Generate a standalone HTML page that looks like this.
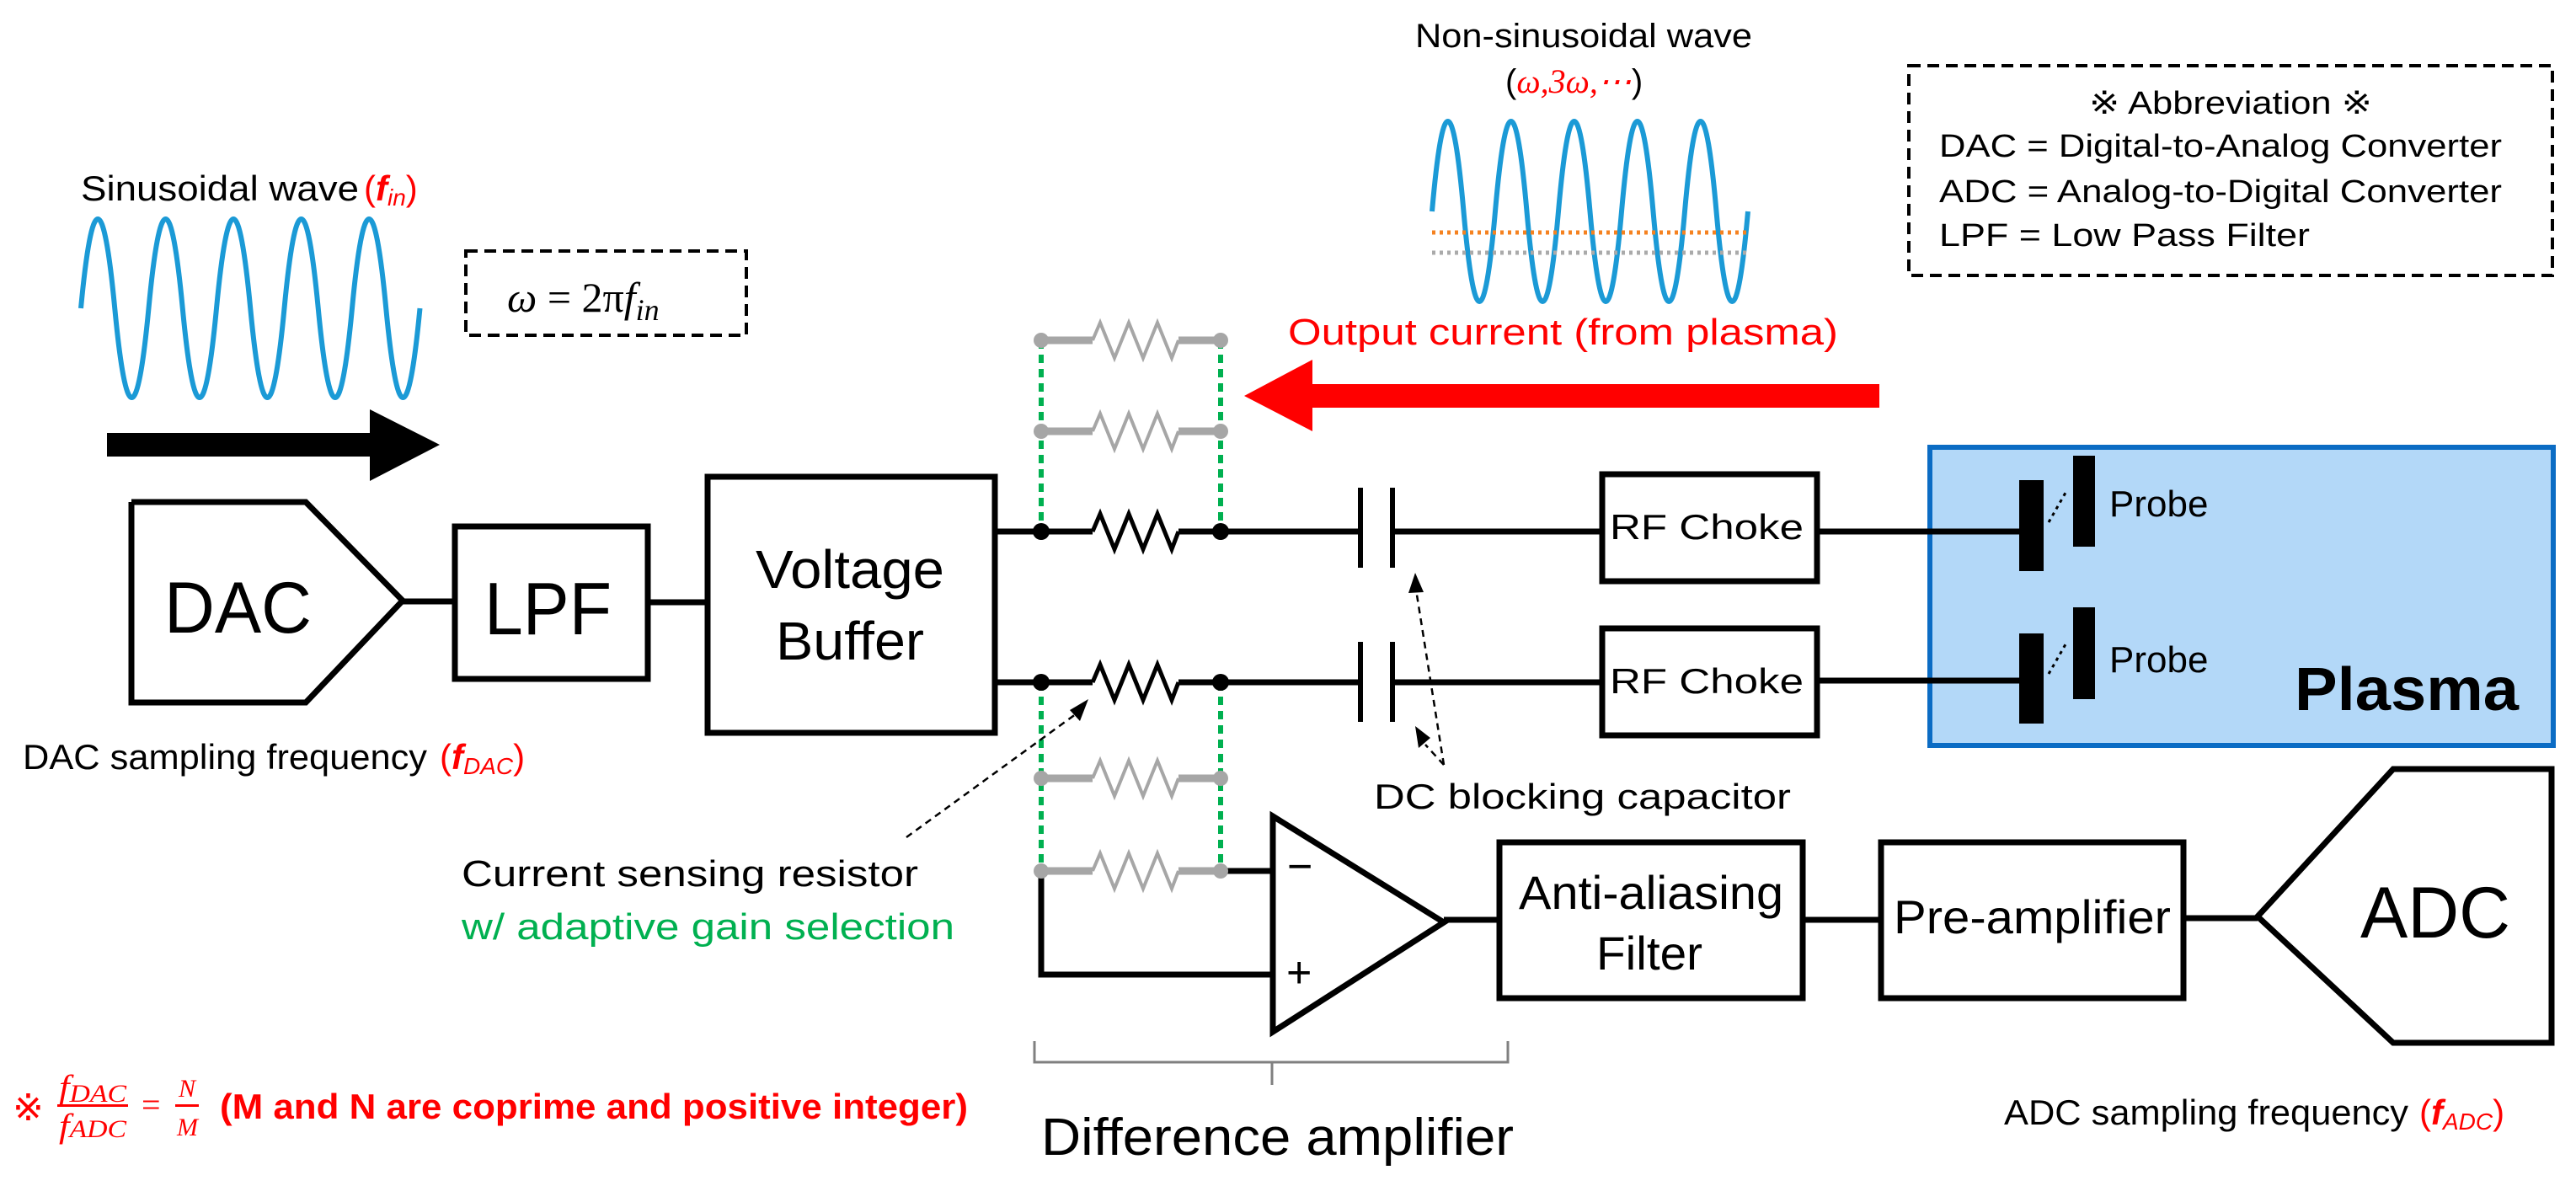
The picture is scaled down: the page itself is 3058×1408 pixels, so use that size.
<!DOCTYPE html>
<html><head><meta charset="utf-8"><style>html,body{margin:0;padding:0;background:#fff}svg{display:block}</style></head>
<body>
<svg width="3058" height="1408" viewBox="0 0 3058 1408" xmlns="http://www.w3.org/2000/svg" font-family="Liberation Sans, Arial, sans-serif">
<rect width="3058" height="1408" fill="#fff"/>

<!-- Sinusoidal wave -->
<text x="96" y="238" font-size="42" textLength="330" lengthAdjust="spacingAndGlyphs">Sinusoidal wave</text>
<text x="432" y="238" font-size="42" fill="#f00">(<tspan font-style="italic" font-weight="bold">f</tspan><tspan font-style="italic" font-size="28" dy="6">in</tspan><tspan dy="-6">)</tspan></text>
<path d="M96,366 Q116.1,154 136.25,366 T176.5,366 T216.75,366 T257,366 T297.25,366 T337.5,366 T377.75,366 T418,366 T458.25,366 T498.5,366" fill="none" stroke="#1b9ad6" stroke-width="6"/>

<!-- omega box -->
<rect x="553" y="298" width="333" height="100" fill="none" stroke="#000" stroke-width="4" stroke-dasharray="14 8"/>
<text x="602" y="370" font-family="Liberation Serif, serif" font-style="italic" font-size="50">ω <tspan font-style="normal">= 2π</tspan>f<tspan font-size="36" dy="10">in</tspan></text>

<!-- black arrow -->
<polygon points="127,514 439,514 439,486 522,528 439,571 439,542 127,542" fill="#000"/>

<!-- Non-sinusoidal wave -->
<text x="1680" y="56" font-size="40" textLength="400" lengthAdjust="spacingAndGlyphs">Non-sinusoidal wave</text>
<text x="1787" y="110" font-size="40">(<tspan fill="#f00" font-family="Liberation Serif, serif" font-style="italic">ω,3ω,⋯</tspan>)</text>
<path d="M1700,251 Q1718.75,37 1737.5,251 T1775,251 T1812.5,251 T1850,251 T1887.5,251 T1925,251 T1962.5,251 T2000,251 T2037.5,251 T2075,251" fill="none" stroke="#1b9ad6" stroke-width="6"/>
<line x1="1700" y1="276" x2="2077" y2="276" stroke="#f58220" stroke-width="5" stroke-dasharray="4 5"/>
<line x1="1700" y1="300" x2="2077" y2="300" stroke="#aaa" stroke-width="5" stroke-dasharray="4 5"/>

<!-- Output current -->
<text x="1529" y="409" font-size="44" fill="#f00" textLength="653" lengthAdjust="spacingAndGlyphs">Output current (from plasma)</text>
<polygon points="2231,456 1558,456 1558,427 1477,470 1558,512 1558,484 2231,484" fill="#f00"/>

<!-- Abbreviation -->
<rect x="2266" y="78" width="764" height="249" fill="none" stroke="#000" stroke-width="4" stroke-dasharray="14 8"/>
<text x="2480" y="135" font-size="38" textLength="336" lengthAdjust="spacingAndGlyphs">※ Abbreviation ※</text>
<text x="2302" y="186" font-size="38" textLength="668" lengthAdjust="spacingAndGlyphs">DAC = Digital-to-Analog Converter</text>
<text x="2302" y="240" font-size="38" textLength="668" lengthAdjust="spacingAndGlyphs">ADC = Analog-to-Digital Converter</text>
<text x="2302" y="292" font-size="38" textLength="440" lengthAdjust="spacingAndGlyphs">LPF  = Low Pass Filter</text>

<!-- Plasma box -->
<rect x="2291" y="531" width="740" height="354" fill="#b3d8f8" stroke="#0b6cc4" stroke-width="6"/>
<text x="2724" y="843" font-size="72" font-weight="bold" textLength="266" lengthAdjust="spacingAndGlyphs">Plasma</text>

<!-- wires -->
<g stroke="#000" stroke-width="7" fill="none">
<polyline points="156,596 363,596 478,713 363,834 156,834 156,596" fill="#fff"/>
<line x1="478" y1="714" x2="538" y2="714"/>
<rect x="540" y="625" width="229" height="181" fill="#fff"/>
<line x1="769" y1="715" x2="839" y2="715"/>
<rect x="840" y="566" width="341" height="304" fill="#fff"/>

<line x1="1181" y1="631" x2="1297" y2="631"/>
<line x1="1399" y1="631" x2="1615" y2="631"/>
<line x1="1653" y1="631" x2="1902" y2="631"/>
<line x1="1181" y1="810" x2="1297" y2="810"/>
<line x1="1399" y1="810" x2="1615" y2="810"/>
<line x1="1653" y1="810" x2="1902" y2="810"/>
<line x1="1615" y1="579" x2="1615" y2="674" stroke-width="6"/>
<line x1="1653" y1="579" x2="1653" y2="674" stroke-width="6"/>
<line x1="1615" y1="762" x2="1615" y2="857" stroke-width="6"/>
<line x1="1653" y1="762" x2="1653" y2="857" stroke-width="6"/>
<rect x="1902" y="563" width="255" height="127" fill="#fff"/>
<rect x="1902" y="746" width="255" height="127" fill="#fff"/>
<line x1="2157" y1="631" x2="2400" y2="631"/>
<line x1="2157" y1="808" x2="2400" y2="808"/>

<!-- op amp inputs -->
<line x1="1449" y1="1034" x2="1511" y2="1034"/>
<polyline points="1236,1034 1236,1157 1511,1157"/>
<polygon points="1511,969 1714,1095 1511,1225" fill="#fff"/>
<line x1="1714" y1="1092" x2="1780" y2="1092"/>
<rect x="1780" y="1000" width="360" height="185" fill="#fff"/>
<line x1="2140" y1="1092" x2="2233" y2="1092"/>
<rect x="2233" y="1000" width="359" height="185" fill="#fff"/>
<line x1="2592" y1="1090" x2="2680" y2="1090"/>
<polygon points="2680,1088 2841,913 3029,913 3029,1238 2841,1238" fill="#fff"/>
</g>

<!-- probe plates -->
<rect x="2397" y="570" width="29" height="108" fill="#000"/>
<rect x="2461" y="541" width="26" height="108" fill="#000"/>
<line x1="2432" y1="620" x2="2452" y2="585" stroke="#000" stroke-width="3" stroke-dasharray="4 5"/>
<rect x="2397" y="752" width="29" height="107" fill="#000"/>
<rect x="2461" y="721" width="26" height="109" fill="#000"/>
<line x1="2432" y1="800" x2="2452" y2="765" stroke="#000" stroke-width="3" stroke-dasharray="4 5"/>
<text x="2504" y="613" font-size="44">Probe</text>
<text x="2504" y="798" font-size="44">Probe</text>

<!-- green dashed -->
<g stroke="#00b050" stroke-width="6" stroke-dasharray="10 7">
<line x1="1236" y1="404" x2="1236" y2="631"/>
<line x1="1449" y1="404" x2="1449" y2="631"/>
<line x1="1236" y1="810" x2="1236" y2="1034"/>
<line x1="1449" y1="810" x2="1449" y2="1034"/>
</g>

<!-- gray resistors -->
<g stroke="#a6a6a6" fill="none">
<g stroke-width="9"><line x1="1236" y1="404" x2="1297" y2="404"/><line x1="1399" y1="404" x2="1449" y2="404"/>
<line x1="1236" y1="512" x2="1297" y2="512"/><line x1="1399" y1="512" x2="1449" y2="512"/>
<line x1="1236" y1="924" x2="1297" y2="924"/><line x1="1399" y1="924" x2="1449" y2="924"/>
<line x1="1236" y1="1034" x2="1297" y2="1034"/><line x1="1399" y1="1034" x2="1449" y2="1034"/></g>
<g stroke-width="4">
<path d="M1297,404 L1306,383 L1323,425 L1340,383 L1357,425 L1374,383 L1391,425 L1399,404"/>
<path d="M1297,512 L1306,491 L1323,533 L1340,491 L1357,533 L1374,491 L1391,533 L1399,512"/>
<path d="M1297,924 L1306,903 L1323,945 L1340,903 L1357,945 L1374,903 L1391,945 L1399,924"/>
<path d="M1297,1034 L1306,1013 L1323,1055 L1340,1013 L1357,1055 L1374,1013 L1391,1055 L1399,1034"/>
</g></g>
<g fill="#a6a6a6">
<circle cx="1236" cy="404" r="9"/><circle cx="1449" cy="404" r="9"/>
<circle cx="1236" cy="512" r="9"/><circle cx="1449" cy="512" r="9"/>
<circle cx="1236" cy="924" r="9"/><circle cx="1449" cy="924" r="9"/>
<circle cx="1236" cy="1034" r="9"/><circle cx="1449" cy="1034" r="9"/>
</g>
<!-- black resistors -->
<g stroke="#000" stroke-width="5" fill="none">
<path d="M1297,631 L1306,610 L1323,652 L1340,610 L1357,652 L1374,610 L1391,652 L1399,631"/>
<path d="M1297,810 L1306,789 L1323,831 L1340,789 L1357,831 L1374,789 L1391,831 L1399,810"/>
</g>
<g fill="#000">
<circle cx="1236" cy="631" r="10"/><circle cx="1449" cy="631" r="10"/>
<circle cx="1236" cy="810" r="10"/><circle cx="1449" cy="810" r="10"/>
</g>

<!-- box texts -->
<text x="195" y="751" font-size="86" textLength="175" lengthAdjust="spacingAndGlyphs">DAC</text>
<text x="575" y="753" font-size="88" textLength="151" lengthAdjust="spacingAndGlyphs">LPF</text>
<text x="897" y="698" font-size="64" textLength="224" lengthAdjust="spacingAndGlyphs">Voltage</text>
<text x="921" y="783" font-size="64" textLength="176" lengthAdjust="spacingAndGlyphs">Buffer</text>
<text x="1911" y="640" font-size="42" textLength="230" lengthAdjust="spacingAndGlyphs">RF Choke</text>
<text x="1911" y="823" font-size="42" textLength="230" lengthAdjust="spacingAndGlyphs">RF Choke</text>
<text x="1803" y="1079" font-size="56" textLength="314" lengthAdjust="spacingAndGlyphs">Anti-aliasing</text>
<text x="1895" y="1151" font-size="56" textLength="126" lengthAdjust="spacingAndGlyphs">Filter</text>
<text x="2248" y="1108" font-size="56" textLength="329" lengthAdjust="spacingAndGlyphs">Pre-amplifier</text>
<text x="2802" y="1113" font-size="86" textLength="178" lengthAdjust="spacingAndGlyphs">ADC</text>
<text x="1528" y="1046" font-size="52">−</text>
<text x="1527" y="1172" font-size="52">+</text>

<!-- dashed arrows -->
<g stroke="#000" stroke-width="2.5" stroke-dasharray="8 6" fill="none">
<line x1="1076" y1="994" x2="1285" y2="842"/>
<line x1="1714" y1="908" x2="1681" y2="700"/>
<line x1="1714" y1="908" x2="1692" y2="884"/>
</g>
<polygon points="1292,830 1270,843 1282,856" fill="#000"/>
<polygon points="1680,680 1672,704 1690,703" fill="#000"/>
<polygon points="1680,862 1684,888 1698,876" fill="#000"/>

<text x="548" y="1052" font-size="44" textLength="542" lengthAdjust="spacingAndGlyphs">Current sensing resistor</text>
<text x="548" y="1115" font-size="44" fill="#00b050" textLength="585" lengthAdjust="spacingAndGlyphs">w/ adaptive gain selection</text>
<text x="1631" y="960" font-size="42" textLength="495" lengthAdjust="spacingAndGlyphs">DC blocking capacitor</text>

<text x="27" y="913" font-size="42" textLength="480" lengthAdjust="spacingAndGlyphs">DAC sampling frequency</text>
<text x="522" y="913" font-size="42" fill="#f00">(<tspan font-style="italic" font-weight="bold">f</tspan><tspan font-style="italic" font-size="28" dy="6">DAC</tspan><tspan dy="-6">)</tspan></text>
<text x="2379" y="1335" font-size="42" textLength="480" lengthAdjust="spacingAndGlyphs">ADC sampling frequency</text>
<text x="2872" y="1335" font-size="42" fill="#f00">(<tspan font-style="italic" font-weight="bold">f</tspan><tspan font-style="italic" font-size="28" dy="6">ADC</tspan><tspan dy="-6">)</tspan></text>

<!-- bracket -->
<path d="M1228,1236 L1228,1261 L1790,1261 L1790,1236 M1510,1261 L1510,1288" stroke="#808080" stroke-width="3" fill="none"/>
<text x="1236" y="1371" font-size="62" textLength="561" lengthAdjust="spacingAndGlyphs">Difference amplifier</text>

<!-- formula -->
<g fill="#f00">
<text x="15" y="1330" font-size="44">※</text>
<text x="70" y="1304" font-family="Liberation Serif, serif" font-style="italic" font-size="40" textLength="80" lengthAdjust="spacingAndGlyphs">f<tspan font-size="30" dy="4">DAC</tspan></text>
<rect x="68" y="1311" width="84" height="3"/>
<text x="70" y="1350" font-family="Liberation Serif, serif" font-style="italic" font-size="40" textLength="80" lengthAdjust="spacingAndGlyphs">f<tspan font-size="30" dy="0">ADC</tspan></text>
<text x="168" y="1325" font-family="Liberation Serif, serif" font-size="40">=</text>
<text x="212" y="1302" font-family="Liberation Serif, serif" font-style="italic" font-size="30">N</text>
<rect x="208" y="1311" width="28" height="3"/>
<text x="210" y="1348" font-family="Liberation Serif, serif" font-style="italic" font-size="30">M</text>
<text x="261" y="1328" font-size="42" font-weight="bold" textLength="888" lengthAdjust="spacingAndGlyphs">(M and N are coprime and positive integer)</text>
</g>
</svg>
</body></html>
